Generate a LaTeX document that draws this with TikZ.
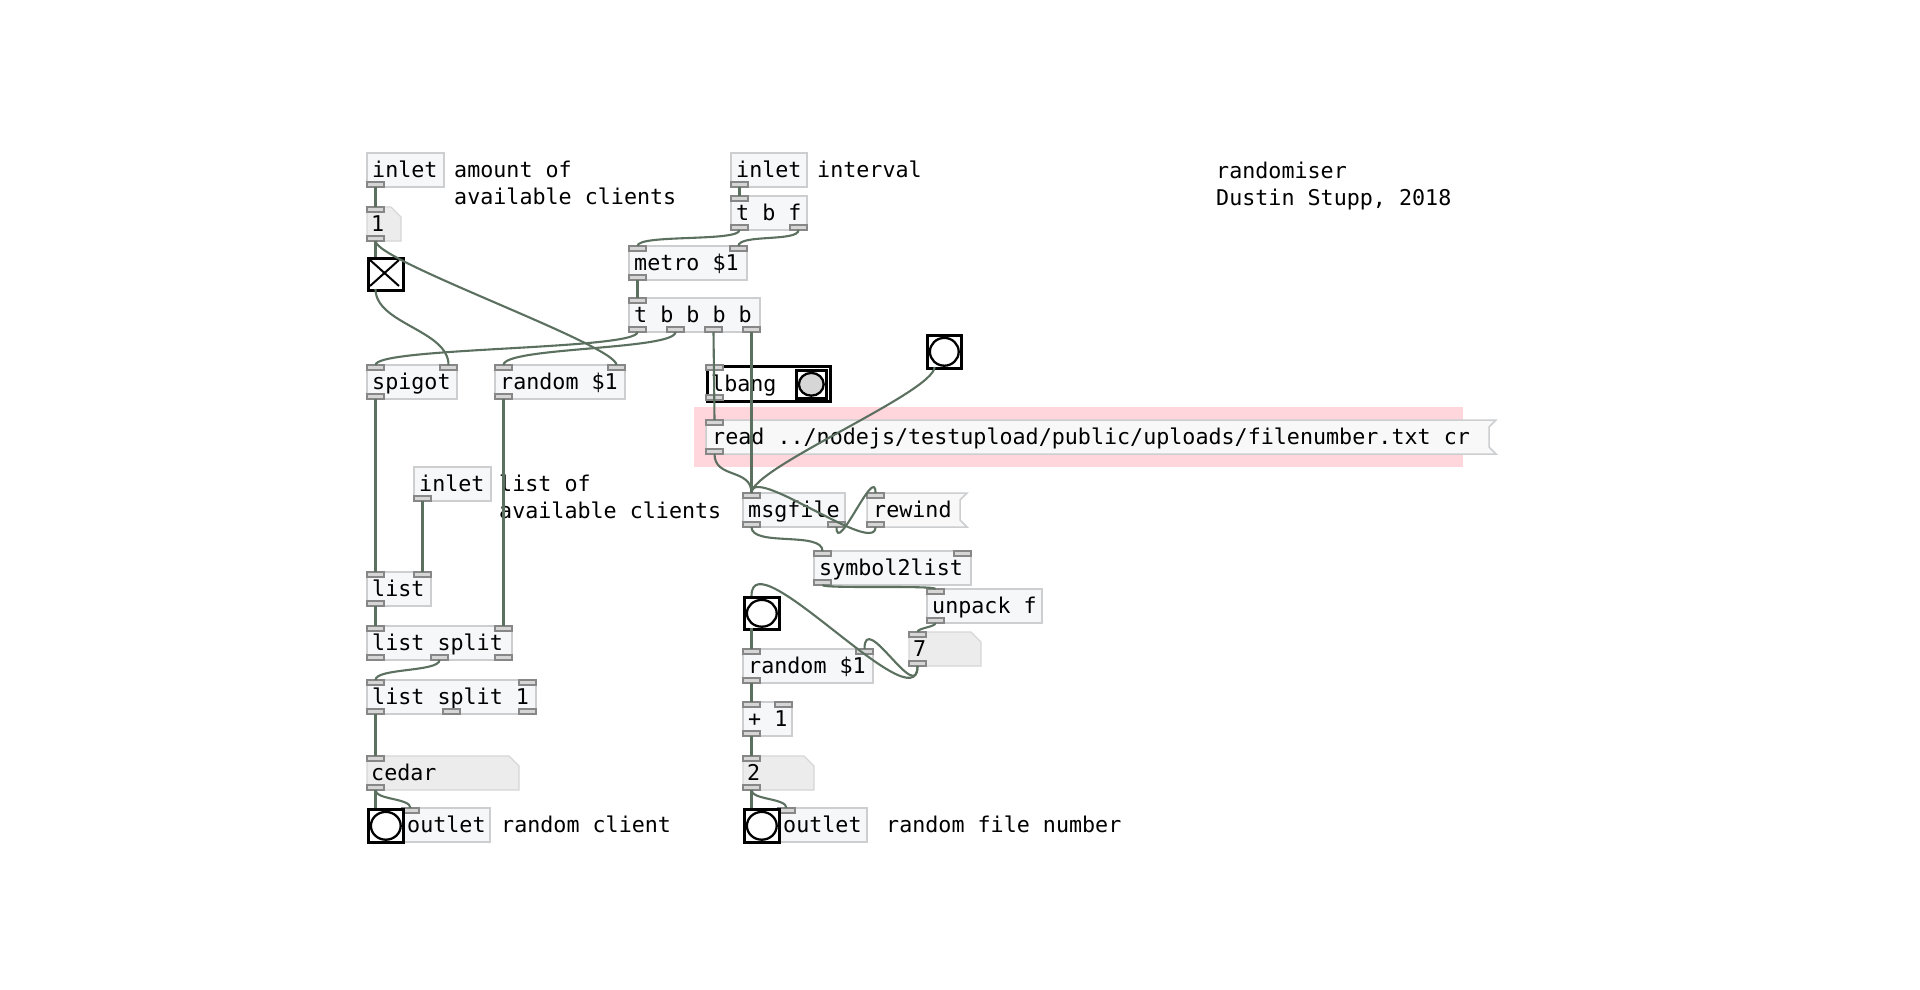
\documentclass[tikz,border=0pt]{standalone}
\usepackage{fontspec}
\newfontfamily\pdfont{DejaVu Sans Mono}
\usetikzlibrary{calc}

\definecolor{cordc}{RGB}{92,112,96}
\definecolor{objfill}{RGB}{245,247,248}
\definecolor{objline}{RGB}{204,206,208}
\definecolor{msgfill}{RGB}{248,248,248}
\definecolor{atomfill}{RGB}{236,236,236}
\definecolor{atomline}{RGB}{214,214,214}
\definecolor{iofill}{RGB}{214,214,214}
\definecolor{ioline}{RGB}{135,135,135}
\definecolor{cnvpink}{RGB}{255,214,220}
\definecolor{lbangfill}{RGB}{214,214,214}

\tikzset{
  pdtext/.style={font=\pdfont\fontsize{21.7}{27}\selectfont, inner sep=0pt, anchor=base west, text=black},
  objshape/.style={fill=objfill, draw=objline, line width=1.5pt},
  msgshape/.style={fill=msgfill, draw=objline, line width=1.5pt},
  atomshape/.style={fill=atomfill, draw=atomline, line width=1.3pt},
  iolet/.style={fill=iofill, draw=ioline, line width=1.2pt},
  cord/.style={draw=cordc, line width=2.1pt},
  guiframe/.style={draw=black, line width=2.6pt, fill=white, inner sep=0pt, anchor=north west},
}

% inlets and outlets of a box: name, x, y, width, height, #inlets, #outlets
\newcommand\pdio[7]{%
  \ifnum#6>0
    \foreach \k in {1,...,#6}{%
      \ifnum#6=1 \def\xx{#2}\else\pgfmathsetmacro\xx{#2+(#4-17)*(\k-1)/(#6-1)}\fi
      \pgfmathsetmacro\xc{\xx+8.5}%
      \draw[iolet] (\xx,#3) rectangle ++(17,5);
      \coordinate (#1-i\k) at (\xc,#3);
    }%
  \fi
  \ifnum#7>0
    \foreach \k in {1,...,#7}{%
      \ifnum#7=1 \def\xx{#2}\else\pgfmathsetmacro\xx{#2+(#4-17)*(\k-1)/(#7-1)}\fi
      \pgfmathsetmacro\xc{\xx+8.5}%
      \draw[iolet] (\xx,#3+#5-5) rectangle ++(17,5);
      \coordinate (#1-o\k) at (\xc,#3+#5);
    }%
  \fi
}

% object box: name, x, y, width, text, #inlets, #outlets
\newcommand\pdobj[7]{%
  \path[objshape] (#2,#3) rectangle ++(#4,34);
  \node[pdtext] (#1) at (#2+5,#3+24.5) {#5};
  \pdio{#1}{#2}{#3}{#4}{34}{#6}{#7}%
}

% message box with flag edge: name, x, y, width, text
\newcommand\pdmsg[5]{%
  \path[msgshape] (#2,#3) -- ++(#4,0) -- ++(-7,7) -- ++(0,20) -- ++(7,7) -- ++(-#4,0) -- cycle;
  \node[pdtext] (#1) at (#2+6,#3+24.5) {#5};
  \pdio{#1}{#2}{#3}{#4}{34}{1}{1}%
}

% number / symbol atom box: name, x, y, width, text
\newcommand\pdatom[5]{%
  \path[atomshape] (#2,#3) -- ++(#4-10,0) -- ++(10,10) -- ++(0,24) -- ++(-#4,0) -- cycle;
  \node[pdtext] (#1) at (#2+4,#3+24.5) {#5};
  \pdio{#1}{#2}{#3}{#4}{34}{1}{1}%
}

% toggle: name, x, y
\newcommand\pdtgl[3]{%
  \node[guiframe, minimum width=35pt, minimum height=32pt] (#1) at (#2,#3) {};
  \draw[line width=2pt] (#2+3,#3+3) -- (#2+32,#3+29) (#2+32,#3+3) -- (#2+3,#3+29);
  \coordinate (#1-i1) at (#2+8.5,#3);
  \coordinate (#1-o1) at (#2+8.5,#3+32);
}

% bang: name, x, y, width, height, circle fill
\newcommand\pdbng[6]{%
  \node[guiframe, minimum width=#4pt, minimum height=#5pt] (#1) at (#2,#3) {};
  \pgfmathsetmacro\rx{#4/2-2.6}\pgfmathsetmacro\ry{#5/2-2.6}%
  \draw[line width=2.3pt, fill=#6] (#1.center) ellipse [x radius=\rx pt, y radius=\ry pt];
  \coordinate (#1-i1) at (#2+8.5,#3);
  \coordinate (#1-o1) at (#2+8.5,#3+#5);
}

% patch cord with vertical tangents: from, to, control offset
\newcommand\cord[3]{\draw[cord] (#1) .. controls ($(#1)+(0,#3)$) and ($(#2)-(0,#3)$) .. (#2);}

\begin{document}
\begin{tikzpicture}[x=1pt,y=-1pt]
\fill[white] (0,0) rectangle (1920,990);
\useasboundingbox (0,0) rectangle (1920,990);

% background canvas behind the read message
\fill[cnvpink] (694,407) rectangle (1463,467);

% left column: client selection
\pdobj{inletA}{367}{153}{77}{inlet}{0}{1}
\node[pdtext] (cmtA1) at (454,177.5) {amount of};
\node[pdtext] (cmtA2) at (454,204.5) {available clients};
\pdatom{numA}{367}{207}{34}{1}
\pdtgl{togA}{367}{257}
\pdobj{spigot}{367}{365}{90}{spigot}{2}{1}
\pdobj{randA}{495}{365}{130}{random \$1}{2}{1}
\pdobj{inletC}{414}{467}{77}{inlet}{0}{1}
\node[pdtext] (cmtC1) at (499,491.5) {list of};
\node[pdtext] (cmtC2) at (499,518.5) {available clients};
\pdobj{list}{367}{572}{64}{list}{2}{1}
\pdobj{lsplit}{367}{626}{145}{list split}{2}{3}
\pdobj{lsplitone}{367}{680}{169}{list split 1}{2}{3}
\pdatom{cedar}{367}{756}{152}{cedar}
\pdobj{outL}{402}{808}{88}{outlet}{1}{0}
\pdbng{bangL}{367}{808}{35}{33}{white}
\node[pdtext] (cmtL) at (501,832.5) {random client};

% timing
\pdobj{inletB}{731}{153}{76}{inlet}{0}{1}
\node[pdtext] (cmtB) at (817,177.5) {interval};
\pdobj{tbf}{731}{196}{76}{t b f}{1}{2}
\pdobj{metro}{629}{246}{118}{metro \$1}{2}{1}
\pdobj{trig}{629}{298}{131}{t b b b b}{1}{4}

% title
\node[pdtext] (title1) at (1216,178.5) {randomiser};
\node[pdtext] (title2) at (1216,205.5) {Dustin Stupp, 2018};

% lbang abstraction
\node[guiframe, minimum width=123pt, minimum height=35pt] (lbangbox) at (706,365) {};
\node[pdtext] (lbang) at (711,391) {lbang};
\pdbng{lbangbtn}{795}{369}{30}{28}{lbangfill}
\pdio{lbang}{706}{365}{123}{35}{1}{1}

\pdbng{bangT}{926}{334}{34}{33}{white}

% file reading
\pdmsg{readmsg}{706}{420}{790}{read ../nodejs/testupload/public/uploads/filenumber.txt cr}
\pdobj{msgfile}{743}{493}{102}{msgfile}{1}{2}
\pdmsg{rewind}{867}{493}{100}{rewind}
\pdobj{symlist}{814}{551}{157}{symbol2list}{2}{1}
\pdobj{unpack}{927}{589}{115}{unpack f}{1}{1}
\pdatom{numB}{909}{632}{72}{7}
\pdbng{bangB}{743}{596}{35}{32}{white}
\pdobj{randB}{743}{649}{130}{random \$1}{2}{1}
\pdobj{plus}{743}{702}{49}{+ 1}{2}{1}
\pdatom{numC}{743}{756}{71}{2}
\pdobj{outR}{778}{808}{89}{outlet}{1}{0}
\pdbng{bangR}{743}{808}{35}{33}{white}
\node[pdtext] (cmtR) at (886,832.5) {random file number};

% patch cords
\draw[cord] (inletA-o1) -- (numA-i1);
\draw[cord] (numA-o1) -- (togA-i1);
\cord{numA-o1}{randA-i2}{20}
\cord{togA-o1}{spigot-i2}{35}
\draw[cord] (inletB-o1) -- (tbf-i1);
\cord{tbf-o1}{metro-i1}{12}
\cord{tbf-o2}{metro-i2}{12}
\draw[cord] (metro-o1) -- (trig-i1);
\cord{trig-o1}{spigot-i1}{18}
\cord{trig-o2}{randA-i1}{18}
\draw[cord] (trig-o3) -- (readmsg-i1);
\draw[cord] (trig-o4) -- (msgfile-i1);
\cord{readmsg-o1}{msgfile-i1}{25}
\cord{bangT-o1}{msgfile-i1}{25}
\cord{msgfile-o2}{rewind-i1}{30}
\cord{rewind-o1}{msgfile-i1}{30}
\cord{msgfile-o1}{symlist-i1}{20}
\cord{symlist-o1}{unpack-i1}{4}
\cord{unpack-o1}{numB-i1}{4}
\cord{numB-o1}{bangB-i1}{60}
\cord{numB-o1}{randB-i2}{40}
\draw[cord] (bangB-o1) -- (randB-i1);
\draw[cord] (randB-o1) -- (plus-i1);
\draw[cord] (plus-o1) -- (numC-i1);
\draw[cord] (numC-o1) -- (bangR-i1);
\cord{numC-o1}{outR-i1}{10}
\draw[cord] (spigot-o1) -- (list-i1);
\draw[cord] (inletC-o1) -- (list-i2);
\draw[cord] (list-o1) -- (lsplit-i1);
\draw[cord] (randA-o1) -- (lsplit-i2);
\cord{lsplit-o2}{lsplitone-i1}{12}
\draw[cord] (lsplitone-o1) -- (cedar-i1);
\draw[cord] (cedar-o1) -- (bangL-i1);
\cord{cedar-o1}{outL-i1}{10}
\end{tikzpicture}
\end{document}
